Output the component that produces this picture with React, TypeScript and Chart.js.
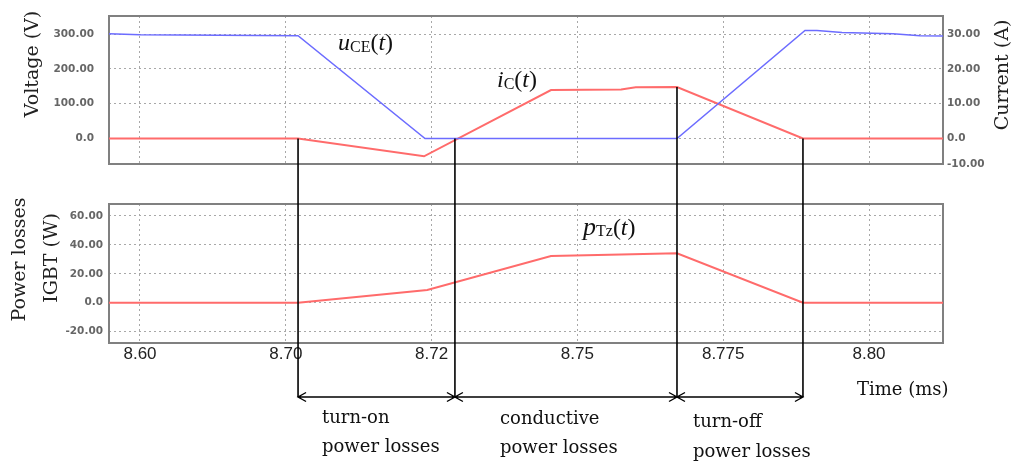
import React, { useEffect, useRef } from 'react';
import { Chart, registerables } from 'chart.js';

Chart.register(...registerables);

// x positions are expressed in tick-index units (the original axis spaces its labels evenly)
const xTickLabels = ['8.60', '8.70', '8.72', '8.75', '8.775', '8.80'];
const xMin = -0.2126;
const xMax = 5.5075;

const voltageX = [-0.2126, 0.0, 1.084, 1.955, 3.683, 4.561, 4.643, 4.815, 5.165, 5.35, 5.5075];
const voltageY = [301, 298, 295, 0, 0, 310, 310, 304, 301, 295, 294];

const currentX = [-0.2126, 1.084, 1.948, 2.819, 3.3, 3.4, 3.683, 4.547, 5.5075];
const currentY = [0, 0, -5.1, 13.9, 14.1, 14.7, 14.8, 0, 0];

const powerX = [-0.2126, 1.084, 1.97, 2.819, 3.3, 3.683, 4.547, 5.5075];
const powerY = [0, 0, 8.8, 32.3, 33.4, 34.2, 0, 0];

const voltageTicks = [0, 100, 200, 300];
const voltageTickLabels = ['0.0', '100.00', '200.00', '300.00'];
const currentTicks = [-10, 0, 10, 20, 30];
const currentTickLabels = ['-10.00', '0.0', '10.00', '20.00', '30.00'];
const powerTicks = [-20, 0, 20, 40, 60];
const powerTickLabels = ['-20.00', '0.0', '20.00', '40.00', '60.00'];

const voltageRange = [-73.2, 351.7];
const currentRange = [-7.32, 35.17];
const powerRange = [-27.9, 68.3];

// phase boundaries (x, in tick-index units) and the current value where each marker starts
const phaseX = [1.084, 2.16, 3.683, 4.547];
const phaseCurrent = [0, 0, 14.8, 0];
const phaseLabels = [
  ['turn-on', 'power losses'],
  ['conductive', 'power losses'],
  ['turn-off', 'power losses'],
];

const BLUE = '#6c6cff';
const RED = '#ff6b6b';
const GRID = '#a8a8a8';
const TICK_FONT = { family: 'DejaVu Sans', size: 10.5, weight: 'bold' as const };
const SERIF = 'DejaVu Serif';
const MATH = 'Liberation Serif';

const TOP_H = 172;
const BOT_H = 463 - TOP_H;
const ARROW_Y = 397;

type Part = { t: string; f: string; dy?: number };
function drawMath(ctx: CanvasRenderingContext2D, x: number, y: number, parts: Part[]) {
  let cx = x;
  ctx.save();
  ctx.textAlign = 'left';
  ctx.textBaseline = 'alphabetic';
  ctx.fillStyle = '#111';
  for (const p of parts) {
    ctx.font = p.f;
    ctx.fillText(p.t, cx, y + (p.dy || 0));
    cx += ctx.measureText(p.t).width;
  }
  ctx.restore();
}

function rotText(ctx: CanvasRenderingContext2D, text: string, x: number, y: number, font: string) {
  ctx.save();
  ctx.translate(x, y);
  ctx.rotate(-Math.PI / 2);
  ctx.font = font;
  ctx.fillStyle = '#222';
  ctx.textAlign = 'center';
  ctx.textBaseline = 'middle';
  ctx.fillText(text, 0, 0);
  ctx.restore();
}

const framePlugin = {
  id: 'frame',
  beforeDatasetsDraw(chart: any) {
    const { ctx, chartArea: a } = chart;
    ctx.save();
    ctx.strokeStyle = '#808080';
    ctx.lineWidth = 2;
    ctx.strokeRect(a.left, a.top, a.right - a.left, a.bottom - a.top);
    ctx.restore();
  },
};

const topAnnot = {
  id: 'topAnnot',
  afterDraw(chart: any) {
    const { ctx } = chart;
    const xs = chart.scales.x;
    const yi = chart.scales.yI;
    ctx.save();
    ctx.strokeStyle = '#000';
    ctx.lineWidth = 1.6;
    phaseX.forEach((v, i) => {
      const px = xs.getPixelForValue(v);
      const py = yi.getPixelForValue(phaseCurrent[i]);
      ctx.beginPath();
      ctx.moveTo(px, py);
      ctx.lineTo(px, chart.height);
      ctx.stroke();
    });
    ctx.restore();
    rotText(ctx, 'Voltage (V)', 33, 64, `19px ${SERIF}`);
    rotText(ctx, 'Current (A)', 1003, 75, `19px ${SERIF}`);
    drawMath(ctx, 338, 50, [
      { t: 'u', f: `italic 24px ${MATH}` },
      { t: 'CE', f: `16px ${MATH}`, dy: 2 },
      { t: '(', f: `24px ${MATH}` },
      { t: 't', f: `italic 24px ${MATH}` },
      { t: ')', f: `24px ${MATH}` },
    ]);
    drawMath(ctx, 497, 87, [
      { t: 'i', f: `italic 24px ${MATH}` },
      { t: 'C', f: `16px ${MATH}`, dy: 2 },
      { t: '(', f: `24px ${MATH}` },
      { t: 't', f: `italic 24px ${MATH}` },
      { t: ')', f: `24px ${MATH}` },
    ]);
  },
};

const botAnnot = {
  id: 'botAnnot',
  afterDraw(chart: any) {
    const { ctx } = chart;
    const xs = chart.scales.x;
    const ay = ARROW_Y - TOP_H;
    const pxs = phaseX.map((v) => xs.getPixelForValue(v));
    ctx.save();
    ctx.strokeStyle = '#000';
    ctx.lineWidth = 1.6;
    pxs.forEach((px) => {
      ctx.beginPath();
      ctx.moveTo(px, 0);
      ctx.lineTo(px, ay);
      ctx.stroke();
    });
    ctx.lineWidth = 1.4;
    for (let i = 0; i < pxs.length - 1; i++) {
      const a = pxs[i];
      const b = pxs[i + 1];
      ctx.beginPath();
      ctx.moveTo(a, ay);
      ctx.lineTo(b, ay);
      ctx.moveTo(a + 8, ay - 4.5);
      ctx.lineTo(a, ay);
      ctx.lineTo(a + 8, ay + 4.5);
      ctx.moveTo(b - 8, ay - 4.5);
      ctx.lineTo(b, ay);
      ctx.lineTo(b - 8, ay + 4.5);
      ctx.stroke();
    }
    ctx.restore();

    ctx.save();
    ctx.fillStyle = '#111';
    ctx.font = `18px ${SERIF}`;
    ctx.textAlign = 'left';
    ctx.textBaseline = 'alphabetic';
    const labelPos = [
      [322, 423, 452],
      [500, 424, 453],
      [693, 427, 457],
    ];
    phaseLabels.forEach((lines, i) => {
      const [lx, b1, b2] = labelPos[i];
      ctx.fillText(lines[0], lx, b1 - TOP_H);
      ctx.fillText(lines[1], lx, b2 - TOP_H);
    });
    ctx.fillText('Time (ms)', 857, 395 - TOP_H);
    ctx.restore();

    rotText(ctx, 'Power losses', 20, 259.5 - TOP_H, `19px ${SERIF}`);
    rotText(ctx, 'IGBT (W)', 52, 258 - TOP_H, `19px ${SERIF}`);
    drawMath(ctx, 583, 235 - TOP_H, [
      { t: 'p', f: `italic 26px ${MATH}` },
      { t: 'Tz', f: `16px ${MATH}`, dy: 1 },
      { t: '(', f: `24px ${MATH}` },
      { t: 't', f: `italic 24px ${MATH}` },
      { t: ')', f: `24px ${MATH}` },
    ]);
  },
};

const pts = (xs: number[], ys: number[]) => xs.map((x, i) => ({ x, y: ys[i] }));

const gridOpts = { color: GRID, lineWidth: 1, drawTicks: false };

function xScale(showLabels: boolean, height: number) {
  return {
    type: 'linear' as const,
    min: xMin,
    max: xMax,
    afterBuildTicks: (s: any) => {
      s.ticks = xTickLabels.map((_, i) => ({ value: i }));
    },
    afterFit: (s: any) => {
      s.height = height;
      s.paddingLeft = 0;
      s.paddingRight = 0;
    },
    ticks: {
      display: showLabels,
      autoSkip: false,
      maxRotation: 0,
      padding: 1,
      color: '#222',
      font: { family: 'Liberation Sans', size: 17 },
      callback: (_v: any, i: number) => xTickLabels[i],
    },
    grid: gridOpts,
    border: { display: false, dash: [2, 3] },
  };
}

function yScale(
  position: 'left' | 'right',
  range: number[],
  ticks: number[],
  labels: string[],
  width: number,
  padding: number,
  grid: boolean
) {
  return {
    type: 'linear' as const,
    position,
    min: range[0],
    max: range[1],
    afterBuildTicks: (s: any) => {
      s.ticks = ticks.map((v) => ({ value: Math.max(v, range[0]) }));
    },
    afterFit: (s: any) => {
      s.width = width;
      s.paddingTop = 0;
      s.paddingBottom = 0;
    },
    ticks: {
      padding,
      color: '#666',
      font: TICK_FONT,
      callback: (_v: any, i: number) => labels[i],
    },
    grid: { ...gridOpts, display: grid },
    border: { display: false, dash: [2, 3] },
  };
}

export default function App() {
  const topRef = useRef<HTMLCanvasElement | null>(null);
  const botRef = useRef<HTMLCanvasElement | null>(null);

  useEffect(() => {
    const top = new Chart(topRef.current as HTMLCanvasElement, {
      type: 'line',
      data: {
        datasets: [
          {
            label: 'uCE',
            data: pts(voltageX, voltageY),
            yAxisID: 'yV',
            borderColor: BLUE,
            borderWidth: 1.5,
            pointRadius: 0,
            tension: 0,
          },
          {
            label: 'iC',
            data: pts(currentX, currentY),
            yAxisID: 'yI',
            borderColor: RED,
            borderWidth: 2,
            pointRadius: 0,
            tension: 0,
          },
        ],
      },
      options: {
        animation: false,
        responsive: false,
        maintainAspectRatio: false,
        devicePixelRatio: 1,
        layout: { padding: { top: 16, left: 0, right: 0, bottom: 0 } },
        plugins: { legend: { display: false }, tooltip: { enabled: false } },
        scales: {
          x: xScale(false, 8) as any,
          yV: yScale('left', voltageRange, voltageTicks, voltageTickLabels, 109, 15, true) as any,
          yI: yScale('right', currentRange, currentTicks, currentTickLabels, 71, 4, false) as any,
        },
      },
      plugins: [framePlugin, topAnnot],
    });

    const bot = new Chart(botRef.current as HTMLCanvasElement, {
      type: 'line',
      data: {
        datasets: [
          {
            label: 'pTz',
            data: pts(powerX, powerY),
            yAxisID: 'yP',
            borderColor: RED,
            borderWidth: 2,
            pointRadius: 0,
            tension: 0,
          },
        ],
      },
      options: {
        animation: false,
        responsive: false,
        maintainAspectRatio: false,
        devicePixelRatio: 1,
        layout: { padding: { top: 32, left: 0, right: 71, bottom: 0 } },
        plugins: { legend: { display: false }, tooltip: { enabled: false } },
        scales: {
          x: xScale(true, BOT_H - 171) as any,
          yP: yScale('left', powerRange, powerTicks, powerTickLabels, 109, 6, true) as any,
        },
      },
      plugins: [framePlugin, botAnnot],
    });

    return () => {
      top.destroy();
      bot.destroy();
    };
  }, []);

  return (
    <div
      style={{
        position: 'absolute',
        left: 0,
        top: 0,
        width: 1014,
        height: 463,
        background: '#fff',
        overflow: 'hidden',
      }}
    >
      <canvas
        ref={topRef}
        width={1014}
        height={TOP_H}
        style={{ position: 'absolute', left: 0, top: 0, width: 1014, height: TOP_H, display: 'block' }}
      />
      <canvas
        ref={botRef}
        width={1014}
        height={BOT_H}
        style={{ position: 'absolute', left: 0, top: TOP_H, width: 1014, height: BOT_H, display: 'block' }}
      />
    </div>
  );
}
